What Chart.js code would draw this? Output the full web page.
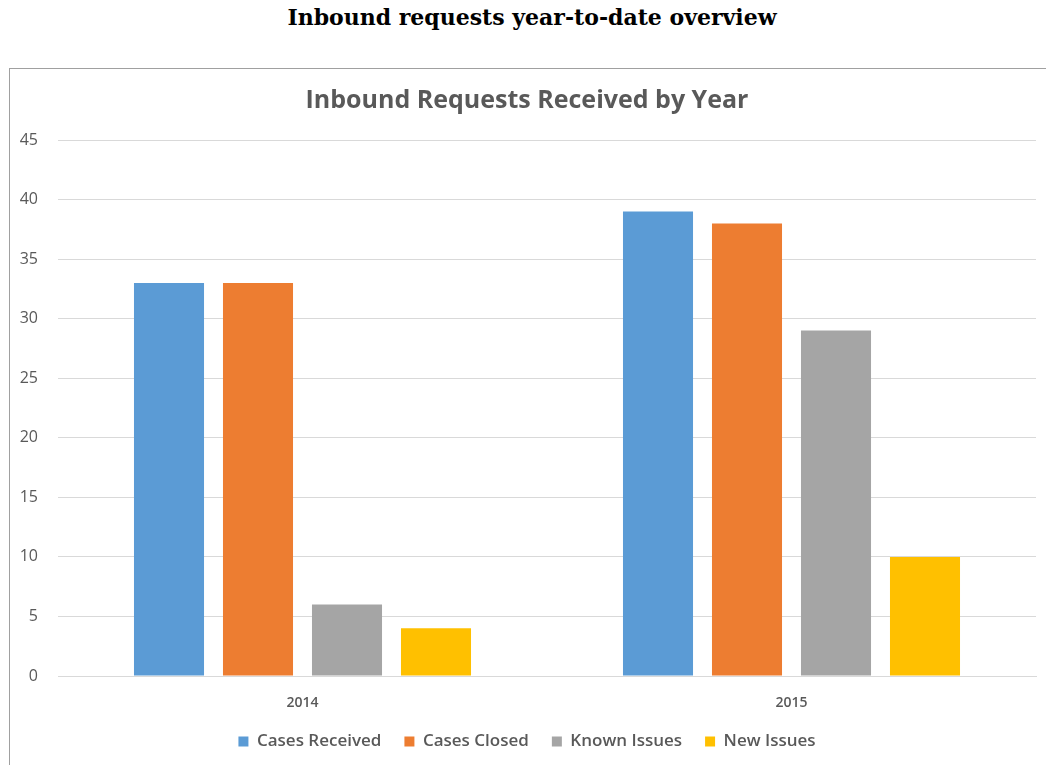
<!DOCTYPE html>
<html>
<head>
<meta charset="utf-8">
<script src="https://cdn.jsdelivr.net/npm/chart.js@4/dist/chart.umd.min.js"></script>
<style>
  body { margin: 0; background: #fff; width: 1046px; height: 765px; overflow: hidden; position: relative; }
  h1 { position: absolute; top: 3px; left: 0; width: 1064px; margin: 0; text-align: center;
       font: bold 22px "DejaVu Serif", serif; color: #000; line-height: 28px; }
  #box { position: absolute; left: 9px; top: 68px; width: 1060px; height: 720px;
         border-left: 1px solid #a0a0a0; border-top: 1px solid #a0a0a0; }
  #wrap { position: absolute; left: 0; top: 0; width: 1037px; height: 697px; }
</style>
</head>
<body>
<h1>Inbound requests year-to-date overview</h1>
<div id="box"><div id="wrap"><canvas id="chart"></canvas></div></div>
<script>
const years = ['2014', '2015'];
const seriesNames = ['Cases Received', 'Cases Closed', 'Known Issues', 'New Issues'];
const casesReceived = [33, 39];
const casesClosed = [33, 38];
const knownIssues = [6, 29];
const newIssues = [4, 10];
const yTicks = [0, 5, 10, 15, 20, 25, 30, 35, 40, 45];
const colors = ['#5b9bd5', '#ed7d31', '#a5a5a5', '#ffc000'];

const seriesValues = [casesReceived, casesClosed, knownIssues, newIssues];
const textColor = '#595959';

const ctx = document.getElementById('chart').getContext('2d');
new Chart(ctx, {
    type: 'bar',
    data: {
        labels: years,
        datasets: seriesNames.map((name, i) => ({
            label: name,
            data: seriesValues[i],
            backgroundColor: colors[i],
            borderWidth: 0,
            categoryPercentage: 0.728,
            barPercentage: 0.787
        }))
    },
    options: {
        responsive: true,
        maintainAspectRatio: false,
        animation: false,
        layout: { padding: { left: 8, right: 11, top: 17, bottom: 6 } },
        plugins: {
            title: {
                display: true,
                text: 'Inbound Requests Received by Year',
                color: textColor,
                font: { family: 'Open Sans', size: 25, weight: '700' },
                padding: { top: 0, bottom: 24 }
            },
            legend: {
                position: 'bottom',
                labels: {
                    color: textColor,
                    font: { family: 'Open Sans', size: 17, weight: '600' },
                    boxWidth: 10,
                    boxHeight: 10,
                    padding: 23
                }
            },
            tooltip: { enabled: false }
        },
        scales: {
            x: {
                grid: { display: false, drawTicks: false },
                border: { color: '#d9d9d9', width: 1 },
                afterFit: axis => { axis.height = 34; },
                ticks: { color: textColor, font: { family: 'Open Sans', size: 14, weight: '600' }, padding: 19 }
            },
            y: {
                min: 0,
                max: 45,
                afterBuildTicks: axis => { axis.ticks = yTicks.map(v => ({ value: v })); },
                afterFit: axis => { axis.width = 40; },
                grid: { color: '#d9d9d9', drawTicks: false },
                border: { display: false },
                ticks: { color: textColor, font: { family: 'Open Sans', size: 16 }, padding: 20 }
            }
        }
    }
});
</script>
</body>
</html>
